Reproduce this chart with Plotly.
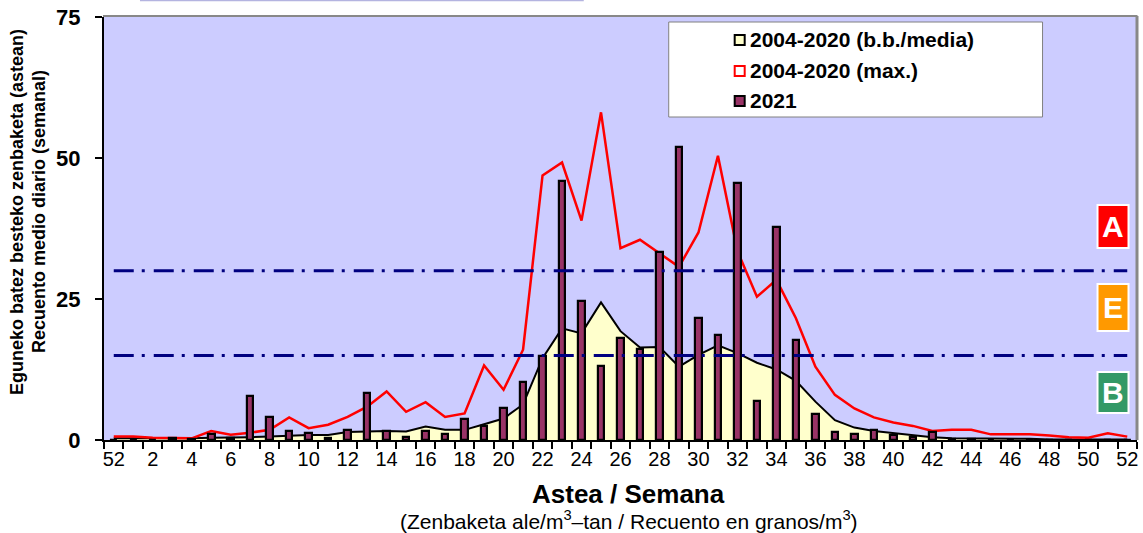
import plotly.graph_objects as go

weeks = [52] + list(range(1, 53))
xpos = list(range(len(weeks)))

val_2021 = [0, 0, 0, 0.3, 0.2, 1.0, 0.3, 7.8, 4.0, 1.6, 1.3, 0.3, 1.8, 8.4, 1.6, 0.5, 1.6,
            1.0, 3.7, 2.4, 5.6, 10.2, 14.9, 46.0, 24.6, 13.1, 18.1, 16.1, 33.3, 52.0, 21.7,
            18.6, 45.6, 7.0, 37.7, 17.7, 4.6, 1.4, 1.1, 1.8, 0.9, 0.5, 1.4, 0.2, 0.2,
            0, 0, 0, 0, 0, 0, 0, 0]
mean_0420 = [0.3, 0.3, 0.2, 0.3, 0.3, 0.4, 0.4, 0.5, 0.6, 0.8, 0.9, 0.9, 1.4, 1.5, 1.6, 1.5,
             2.4, 1.8, 1.8, 2.8, 3.8, 6.3, 14.5, 19.8, 18.9, 24.4, 19.3, 16.4, 16.5, 13.0,
             15.1, 16.8, 15.4, 13.7, 12.5, 10.5, 6.8, 3.5, 2.2, 1.6, 1.2, 0.8, 0.5, 0.3, 0.3,
             0.2, 0.2, 0.2, 0.1, 0.1, 0.1, 0.1, 0.1]
max_0420 = [0.6, 0.6, 0.4, 0.3, 0.3, 1.6, 0.95, 1.3, 1.8, 4.0, 2.1, 2.7, 4.1, 5.9, 8.6, 5.0,
            6.7, 4.1, 4.7, 13.2, 8.9, 16.0, 46.9, 49.2, 38.9, 58.1, 34.0, 35.5, 33.1, 30.7,
            36.8, 50.4, 33.5, 25.4, 28.4, 21.6, 13.0, 8.0, 5.6, 4.0, 3.1, 2.5, 1.6, 1.8, 1.8,
            1.0, 1.0, 1.0, 0.8, 0.5, 0.4, 1.2, 0.6]
thresholds = [15, 30]
level_labels = ["A", "E", "B"]
level_colors = ["#FF0000", "#FF9900", "#339966"]
tick_idx = list(range(0, 53, 2))
tick_text = [str(weeks[i]) for i in tick_idx]
legend_names = ["2004-2020 (b.b./media)", "2004-2020 (max.)", "2021"]

FONT = "Liberation Sans, Arial, sans-serif"
# pixel geometry of plot area
L, R, T, B = 104, 1137.5, 17, 440
W, H = R - L, B - T
def px2x(px):
    return (px - L) / W
def py2y(py):
    return (B - py) / H

fig = go.Figure()
fig.add_trace(go.Scatter(x=xpos, y=mean_0420, mode="lines", fill="tozeroy",
                         fillcolor="#FFFFCC", line=dict(color="black", width=2),
                         showlegend=False))
fig.add_trace(go.Scatter(x=xpos, y=max_0420, mode="lines",
                         line=dict(color="#FF0000", width=2.5), showlegend=False))
fig.add_trace(go.Bar(x=xpos, y=val_2021, width=0.34, xaxis="x2", yaxis="y2",
                     marker=dict(color="#993366", line=dict(color="black", width=2.2)),
                     showlegend=False))
for t in thresholds:
    fig.add_trace(go.Scatter(x=[xpos[0], xpos[-1]], y=[t, t], mode="lines",
                             xaxis="x2", yaxis="y2",
                             line=dict(color="#000080", width=3, dash="20px,8px,3px,9px"),
                             showlegend=False, hoverinfo="skip"))

shapes = []
annotations = []
# frame top and right (gray)
shapes.append(dict(type="line", xref="paper", yref="paper", x0=px2x(103), x1=px2x(1138),
                   y0=py2y(16), y1=py2y(16), line=dict(color="#888888", width=2)))
shapes.append(dict(type="line", xref="paper", yref="paper", x0=px2x(1137.5), x1=px2x(1137.5),
                   y0=py2y(16), y1=py2y(440), line=dict(color="#888888", width=3)))
# cut-off title box edge at top
shapes.append(dict(type="line", xref="paper", yref="paper", x0=px2x(140), x1=px2x(584),
                   y0=py2y(0.5), y1=py2y(0.5), line=dict(color="#B4B4E0", width=1.5)))

# legend box
shapes.append(dict(type="rect", xref="paper", yref="paper", x0=px2x(669), x1=px2x(1043),
                   y0=py2y(117), y1=py2y(22), fillcolor="white",
                   line=dict(color="#808080", width=1)))
leg_fill = ["#FFFFCC", "white", "#993366"]
leg_line = ["black", "#FF0000", "black"]
leg_y = [40, 71, 101]
for name, fc, lc, yy in zip(legend_names, leg_fill, leg_line, leg_y):
    shapes.append(dict(type="rect", xref="paper", yref="paper", x0=px2x(735), x1=px2x(745),
                       y0=py2y(yy + 5), y1=py2y(yy - 5), fillcolor=fc,
                       line=dict(color=lc, width=2)))
    annotations.append(dict(text=name, xref="paper", yref="paper", x=px2x(748), y=py2y(yy),
                            xanchor="left", yanchor="middle", showarrow=False,
                            font=dict(family=FONT, size=21, color="black", weight="bold")))

# level boxes
box_y = [(205, 248), (284, 331), (372, 413)]
for lab, col, (y0, y1) in zip(level_labels, level_colors, box_y):
    shapes.append(dict(type="rect", xref="paper", yref="paper", x0=px2x(1098), x1=px2x(1129),
                       y0=py2y(y1), y1=py2y(y0), fillcolor=col,
                       line=dict(color="white", width=2)))
    annotations.append(dict(text=lab, xref="paper", yref="paper", x=px2x(1113.5),
                            y=py2y((y0 + y1) / 2), xanchor="center", yanchor="middle",
                            showarrow=False,
                            font=dict(family=FONT, size=30, color="white", weight="bold")))

# y-axis title (two lines)
annotations.append(dict(text="Eguneko batez besteko zenbaketa (astean)", xref="paper",
                        yref="paper", x=px2x(17), y=py2y(212), textangle=-90,
                        xanchor="center", yanchor="middle", showarrow=False,
                        font=dict(family=FONT, size=18, color="black", weight="bold")))
annotations.append(dict(text="Recuento medio diario (semanal)", xref="paper",
                        yref="paper", x=px2x(39), y=py2y(212), textangle=-90,
                        xanchor="center", yanchor="middle", showarrow=False,
                        font=dict(family=FONT, size=18, color="black", weight="bold")))
# x-axis titles
annotations.append(dict(text="Astea / Semana", xref="paper", yref="paper",
                        x=px2x(629), y=py2y(494), xanchor="center", yanchor="middle",
                        showarrow=False,
                        font=dict(family=FONT, size=26, color="black", weight="bold")))
annotations.append(dict(text="(Zenbaketa ale/m<sup>3</sup>–tan / Recuento en granos/m<sup>3</sup>)",
                        xref="paper", yref="paper",
                        x=px2x(629), y=py2y(520), xanchor="center", yanchor="middle",
                        showarrow=False,
                        font=dict(family=FONT, size=21, color="black")))

fig.update_layout(
    width=1143, height=533,
    margin=dict(l=L, r=1143 - R, t=T, b=533 - B),
    paper_bgcolor="white", plot_bgcolor="#CCCCFF",
    bargap=0, barmode="overlay",
    shapes=shapes, annotations=annotations,
    showlegend=False,
    xaxis=dict(range=[-0.5, 52.5], tickmode="array", tickvals=tick_idx, ticktext=tick_text,
               ticks="outside", ticklen=0, showgrid=False, zeroline=False,
               showline=True, linecolor="black", linewidth=2,
               tickfont=dict(family=FONT, size=20, color="black"),
               minor=dict(tickvals=[i - 0.5 for i in range(54)], ticks="outside",
                          ticklen=7, tickcolor="black", tickwidth=1.5, showgrid=False)),
    yaxis=dict(range=[0, 75], tickvals=[0, 25, 50, 75], ticks="outside", ticklen=7,
               tickcolor="black", tickwidth=1.5, showgrid=False, zeroline=False,
               showline=True, linecolor="black", linewidth=2, ticklabelstandoff=10,
               tickfont=dict(family=FONT, size=22, color="black", weight="bold")),
    xaxis2=dict(range=[-0.5, 52.5], overlaying="x", visible=False, showgrid=False),
    yaxis2=dict(range=[0, 75], overlaying="y", visible=False, showgrid=False),
)

fig.write_html("out.html", config={"displayModeBar": False},
               post_script="document.body.style.margin='0px';")
